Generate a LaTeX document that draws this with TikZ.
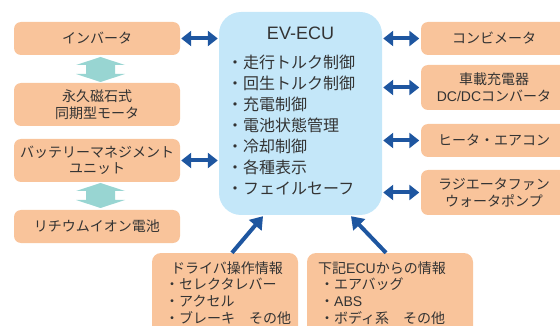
\documentclass[tikz,border=0pt]{standalone}
\usepackage{fontspec}
\setmainfont{Noto Sans CJK JP}
\newfontfamily\lat{Liberation Sans}
\usetikzlibrary{arrows.meta,calc}
\definecolor{peach}{HTML}{F9C49B}
\definecolor{ecublue}{HTML}{C4E7F9}
\definecolor{fatteal}{HTML}{98D5D2}
\definecolor{arrblue}{HTML}{1E56A0}
\definecolor{txt}{HTML}{333333}
\begin{document}
\begin{tikzpicture}[x=1pt,y=-1pt,
  box/.style={fill=peach, rounded corners=7pt, inner sep=0pt, text=txt,
    font=\fontsize{14}{16.5}\selectfont, align=center},
  lbox/.style={box, minimum width=166pt},
  rbox/.style={box, minimum width=146pt},
  bbox/.style={fill=peach, rounded corners=9pt, inner sep=0pt},
  btext/.style={inner sep=0pt, text=txt, align=left, anchor=west,
    font=\fontsize{14}{16.7}\selectfont},
  dblarr/.style={draw=arrblue, line width=4pt,
    {Triangle[length=10pt,width=15pt]}-{Triangle[length=10pt,width=15pt]}},
  onearr/.style={draw=arrblue, line width=4pt, -{Triangle[length=12pt,width=16pt]}},
  fatarrow/.pic={\fill[fatteal] (0,-12.5) -- (24.5,-4.5) -- (14.5,-4.5) -- (14.5,4.5)
    -- (24.5,4.5) -- (0,12.5) -- (-24.5,4.5) -- (-14.5,4.5) -- (-14.5,-4.5)
    -- (-24.5,-4.5) -- cycle;}
]
\useasboundingbox (0,0) rectangle (560,326);
\clip (0,0) rectangle (560,326);

% left column
\node[lbox, minimum height=33pt] (inv) at (97,38.5) {インバータ};
\node[lbox, minimum height=43pt] (mot) at (97,104.5) {永久磁石式\\同期型モータ};
\node[lbox, minimum height=43pt] (bmu) at (97,160.5) {バッテリーマネジメント\\ユニット};
\node[lbox, minimum height=33pt] (li) at (97,226.5) {リチウムイオン電池};

% ECU
\node[fill=ecublue, rounded corners=22pt, minimum width=163pt, minimum height=203pt, inner sep=0pt] (ecu) at (300.5,113.5) {};
\node[inner sep=0pt, text=txt, font=\lat\fontsize{18}{20}\selectfont] (ecutitle) at (300.5,33) {EV-ECU};
\node[inner sep=0pt, text=txt, align=left, anchor=west, font=\fontsize{16}{20.9}\selectfont] (eculist) at (227,125)
  {・走行トルク制御\\・回生トルク制御\\・充電制御\\・電池状態管理\\・冷却制御\\・各種表示\\・フェイルセーフ};

% right column
\node[rbox, minimum height=33pt] (combi) at (494,38.5) {コンビメータ};
\node[rbox, minimum height=45pt] (chg) at (494,87.5) {車載充電器\\{\lat DC/DC}コンバータ};
\node[rbox, minimum height=33pt] (heat) at (494,140.5) {ヒータ・エアコン};
\node[rbox, minimum height=45pt] (rad) at (494,192.5) {ラジエータファン\\ウォータポンプ};

% bottom boxes
\node[bbox, minimum width=146pt, minimum height=90pt] (drv) at (225,298) {};
\node[btext] (drvtext) at (165,293) {\hspace*{6pt}ドライバ操作情報\\・セレクタレバー\\・アクセル\\・ブレーキ　その他};
\node[bbox, minimum width=166pt, minimum height=90pt] (oth) at (390,298) {};
\node[btext] (othtext) at (318,293) {下記{\lat ECU}からの情報\\\hspace*{2pt}・エアバッグ\\\hspace*{2pt}・{\lat ABS}\\\hspace*{2pt}・ボディ系　その他};

% fat teal arrows
\pic at ($(inv.south)!0.5!(mot.north)+(3.5,0.5)$) {fatarrow};
\pic at ($(bmu.south)!0.5!(li.north)+(3.5,-0.5)$) {fatarrow};

% blue double arrows
\draw[dblarr] ([xshift=1pt]inv.east) -- ([xshift=-1pt]inv.east -| ecu.west);
\draw[dblarr] ([xshift=1pt]bmu.east) -- ([xshift=-1pt]bmu.east -| ecu.west);
\draw[dblarr] ([xshift=1pt]ecu.east |- combi.west) -- ([xshift=-1.5pt]combi.west);
\draw[dblarr] ([xshift=1pt]ecu.east |- chg.west) -- ([xshift=-1.5pt]chg.west);
\draw[dblarr] ([xshift=1pt]ecu.east |- heat.west) -- ([xshift=-1.5pt]heat.west);
\draw[dblarr] ([xshift=1pt]ecu.east |- rad.west) -- ([xshift=-1.5pt]rad.west);

% diagonal arrows
\draw[onearr] ([xshift=7pt]drv.north) -- ([xshift=-37.5pt,yshift=-1pt]ecu.south);
\draw[onearr] ([xshift=-4pt]oth.north) -- ([xshift=50.5pt,yshift=-1pt]ecu.south);
\end{tikzpicture}
\end{document}
